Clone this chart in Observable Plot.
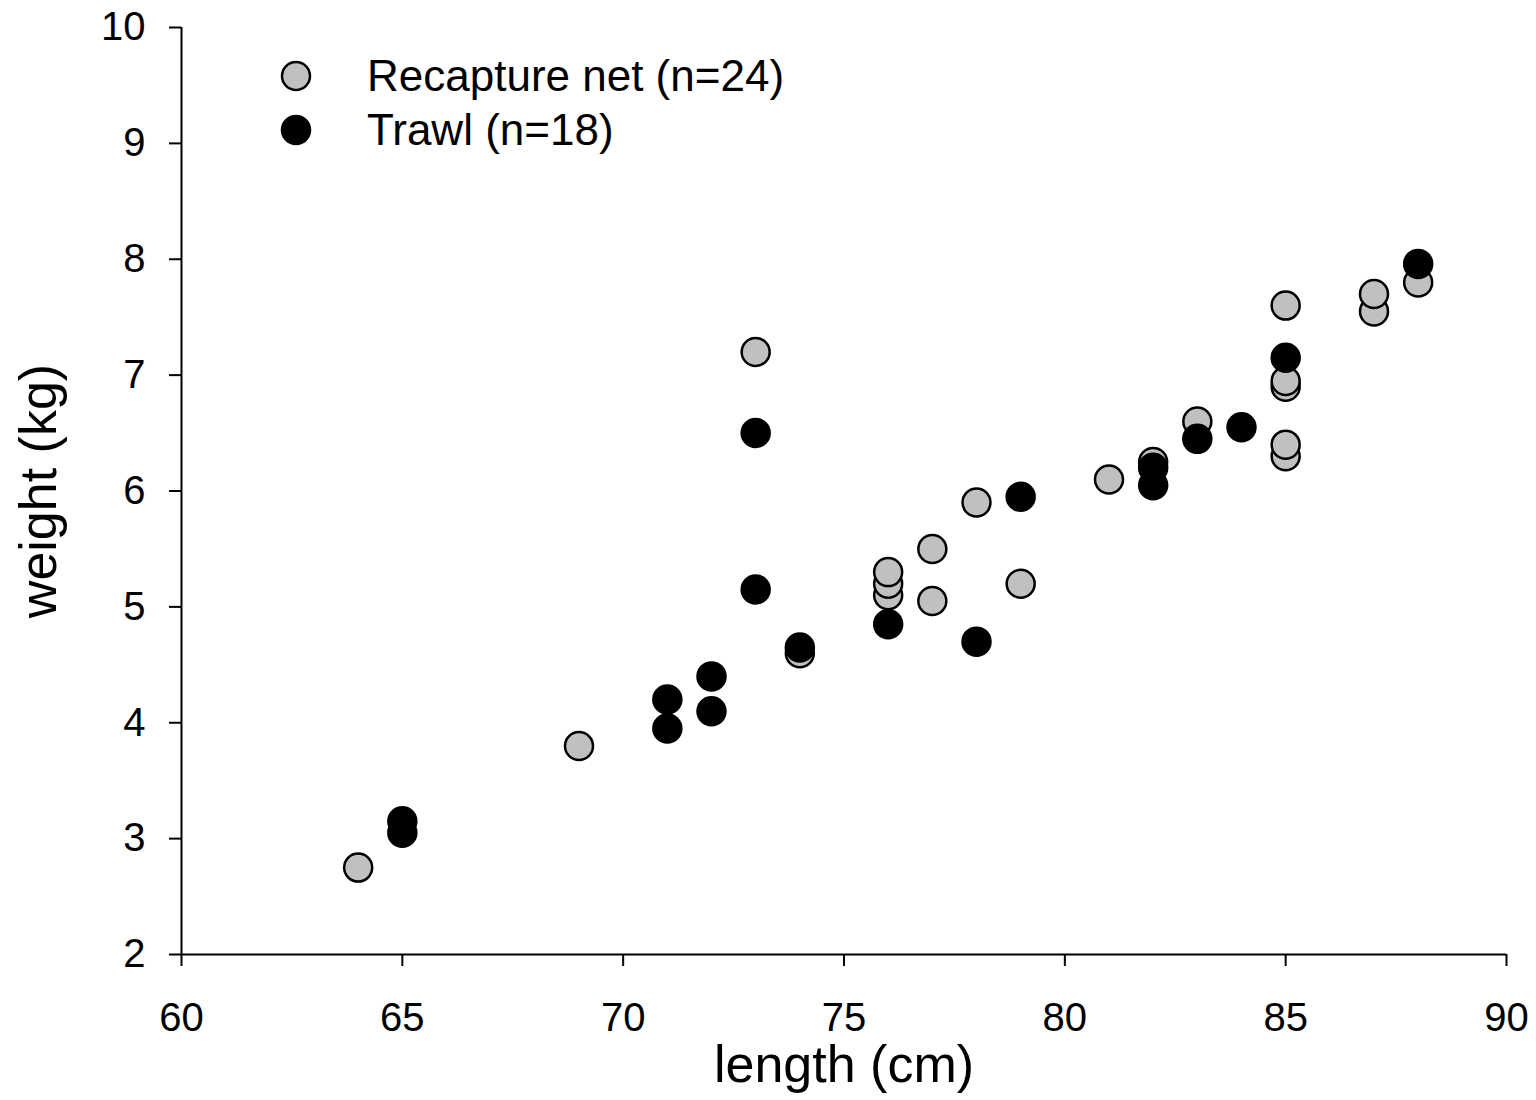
<!DOCTYPE html>
<html><head>
<meta charset="utf-8">
<script src="https://cdn.jsdelivr.net/npm/d3@7"></script>
<script src="https://cdn.jsdelivr.net/npm/@observablehq/plot@0.6"></script>
<style>
body{margin:0;background:#fff;font-family:"Liberation Sans",Arial,sans-serif}
#wrap{position:relative;width:1536px;height:1100px}
#legend{position:absolute;left:280px;top:49px;font-size:44px;color:#000;line-height:54px}
#legend div{display:flex;align-items:center}
#legend svg{margin-right:55px}
</style>
</head><body>
<div id="wrap"><div id="chart"></div>
<div id="legend"></div></div>
<script>
const seriesNames = ["Recapture net (n=24)", "Trawl (n=18)"];
const seriesColors = ["#c0c0c0", "#000000"];
const netLength = [64, 69, 73, 74, 76, 76, 76, 77, 77, 78, 79, 81, 82, 83, 85, 85, 85, 85, 85, 87, 87, 88];
const netWeight = [2.75, 3.8, 7.2, 4.6, 5.1, 5.2, 5.3, 5.05, 5.5, 5.9, 5.2, 6.1, 6.25, 6.6, 6.3, 6.4, 6.9, 6.95, 7.6, 7.55, 7.7, 7.8];
const trawlLength = [65, 65, 71, 71, 72, 72, 73, 73, 74, 76, 78, 79, 82, 82, 83, 84, 85, 88];
const trawlWeight = [3.05, 3.15, 3.95, 4.2, 4.1, 4.4, 5.15, 6.5, 4.65, 4.85, 4.7, 5.95, 6.05, 6.2, 6.45, 6.55, 7.15, 7.96];
const xTicks = [60, 65, 70, 75, 80, 85, 90];
const yTicks = [2, 3, 4, 5, 6, 7, 8, 9, 10];
const xLabel = "length (cm)";
const yLabel = "weight (kg)";

const net = netLength.map((l, i) => ({length: l, weight: netWeight[i]}));
const trawl = trawlLength.map((l, i) => ({length: l, weight: trawlWeight[i]}));

const chart = Plot.plot({
  width: 1536,
  height: 1100,
  marginLeft: 181,
  marginRight: 30,
  marginTop: 27,
  marginBottom: 146,
  style: {fontFamily: '"Liberation Sans", Arial, sans-serif', background: "#fff", color: "#000"},
  x: {domain: [60, 90]},
  y: {domain: [2, 10]},
  marks: [
    Plot.axisX({ticks: xTicks, tickSize: 12, tickPadding: 36, fontSize: 40, label: null, strokeWidth: 2}),
    Plot.axisY({ticks: yTicks, tickSize: 12, tickPadding: 24, fontSize: 40, label: null, strokeWidth: 2}),
    Plot.ruleX([60], {stroke: "#000", strokeWidth: 2}),
    Plot.ruleY([2], {stroke: "#000", strokeWidth: 2}),
    Plot.text([xLabel], {text: d => d, frameAnchor: "bottom", textAnchor: "middle", lineAnchor: "bottom", dy: 127, fontSize: 52, fill: "#000"}),
    Plot.text([yLabel], {text: d => d, frameAnchor: "left", textAnchor: "middle", lineAnchor: "middle", dx: -142, rotate: -90, fontSize: 52, fill: "#000"}),
    Plot.dot(net, {x: "length", y: "weight", r: 14, fill: seriesColors[0], stroke: "#000", strokeWidth: 2.5}),
    Plot.dot(trawl, {x: "length", y: "weight", r: 14, fill: seriesColors[1], stroke: "#000", strokeWidth: 2.5})
  ]
});
document.getElementById("chart").append(chart);

const legend = document.getElementById("legend");
seriesNames.forEach((name, i) => {
  const row = document.createElement("div");
  row.innerHTML = `<svg width="32" height="32"><circle cx="16" cy="16" r="14" fill="${seriesColors[i]}" stroke="#000" stroke-width="2.5"/></svg><span>${name}</span>`;
  legend.append(row);
});
</script>
</body></html>
